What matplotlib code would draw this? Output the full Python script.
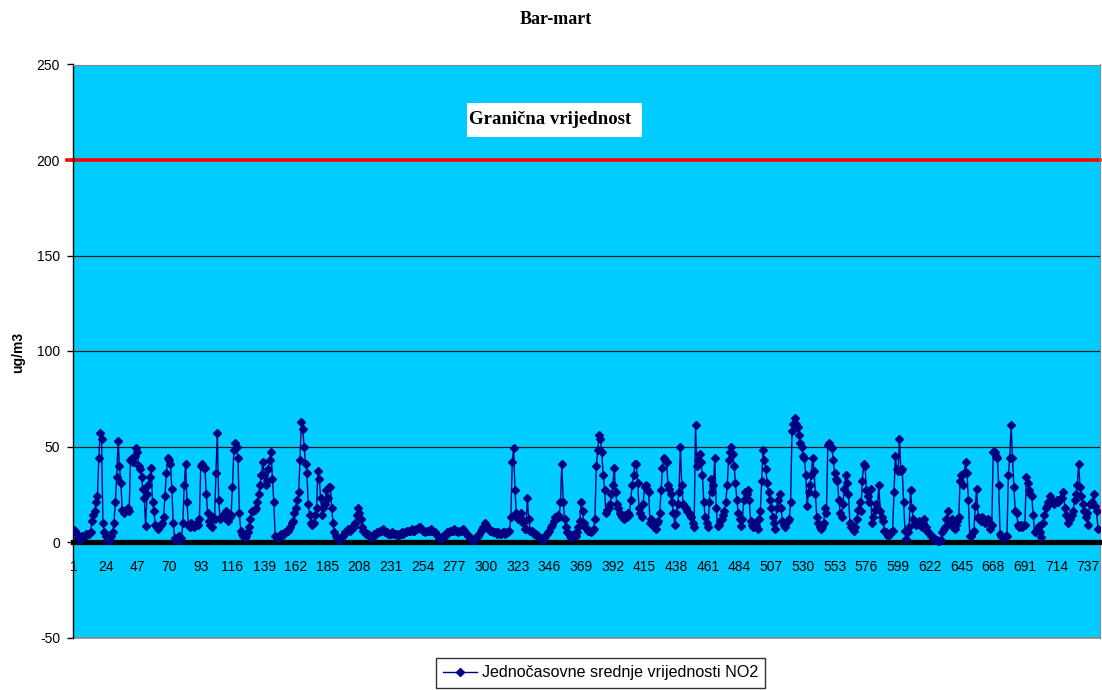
import numpy as np
import matplotlib
matplotlib.use('Agg')
import matplotlib.pyplot as plt
from matplotlib.patches import Rectangle

# hourly NO2 values for March, one row per day (24 h)
no2_days = [
    [6.5, 6, 4, 2, 1, 2, 3, 3, 3, 4, 4, 4, 5, 11, 14, 16, 21, 24, 44, 57, 54, 10, 5, 3],
    [1, 2, 1, 3, 5, 10, 21, 34, 53, 40, 31, 17, 15, 16, 17, 18, 16, 43, 44, 42, 45, 49, 47, 40],
    [38, 34, 28, 23, 8.5, 25, 30, 34, 39, 21, 16, 9, 8, 7, 8, 9, 10, 13, 24, 36, 44, 43, 41, 28],
    [10, 2, 1, 2, 3, 1, 2, 10, 30, 41, 21, 9, 8, 10, 9, 8, 9, 10, 9, 12, 40, 41, 39, 39],
    [25, 15, 11, 9, 8, 13, 12, 36, 57, 22, 12, 13, 14, 13, 16, 12, 11, 13, 14, 29, 48, 52, 50, 44],
    [15, 6, 4, 3, 2, 3, 5, 8, 12, 16, 16, 17, 18, 21, 25, 30, 35, 42, 35, 30, 32, 38, 43, 47],
    [33, 21, 3, 2, 2, 3, 4, 3, 4, 5, 5, 6, 7, 8, 10, 11, 15, 18, 22, 26, 43, 63, 59, 50],
    [41, 36, 20, 14, 10, 9, 10, 14, 18, 37, 33, 23, 14, 18, 20, 27, 23, 29, 29, 18, 10, 5, 3, 2],
    [1, 1, 2, 3, 4, 5, 6, 7, 6, 7, 8, 8, 10, 14, 18, 15, 12, 8, 6, 5, 4, 4, 3, 3],
    [2, 3, 4, 4, 5, 5, 6, 6, 7, 6, 5, 5, 4, 4, 4, 5, 4, 4, 4, 3, 4, 4, 5, 4],
    [5, 5, 6, 6, 6, 7, 6, 6, 7, 7, 8, 8, 7, 6, 6, 5, 6, 6, 6, 7, 6, 5, 5, 4],
    [3, 2, 2, 2, 3, 3, 4, 5, 5, 6, 6, 6, 7, 6, 6, 5, 6, 6, 7, 6, 5, 4, 3, 2],
    [2, 1, 1, 2, 2, 3, 4, 6, 7, 8, 10, 9, 8, 7, 6, 6, 5, 5, 5, 4, 5, 4, 4, 5],
    [5, 4, 5, 5, 6, 13, 42, 49, 27, 15, 12, 14, 15, 12, 10, 7, 7, 23, 12, 6, 6, 5, 4, 4],
    [3, 3, 2, 2, 1, 2, 3, 4, 5, 6, 8, 9, 11, 13, 13, 14, 13, 21, 41, 21, 12, 8, 5, 4],
    [3, 2, 3, 4, 3, 5, 8, 11, 21, 16, 10, 8, 7, 6, 6, 5, 6, 7, 12, 40, 48, 56, 54, 47],
    [35, 27, 15, 17, 18, 20, 25, 30, 39, 26, 20, 18, 15, 14, 13, 12, 14, 13, 15, 14, 22, 30, 35, 41],
    [41, 31, 18, 15, 13, 20, 29, 30, 28, 26, 10, 12, 9, 8, 7, 10, 11, 15, 27, 39, 44, 43, 42, 30],
    [28, 25, 21, 15, 9, 15, 20, 26, 50, 30, 20, 19, 18, 16, 15, 14, 13, 10, 8, 61, 40, 43, 46, 42],
    [35, 21, 13, 10, 8, 21, 33, 26, 30, 44, 18, 8.5, 9, 11, 12, 14, 16, 21, 30, 43, 47, 50, 46, 40],
    [31, 22, 15, 12, 8.5, 12, 22, 26, 25, 27, 22, 11, 9, 8, 10, 9, 7, 12, 16, 32, 48, 43, 38, 31],
    [26, 22, 18, 13, 10, 7, 18, 22, 25, 18, 11, 9, 8, 10, 11, 12, 21, 58, 62, 65, 62, 60, 56, 52],
    [50, 45, 44, 35, 19, 26, 30, 35, 44, 37, 25, 13, 10, 8, 7, 8, 10, 18, 15, 51, 52, 50, 49, 43],
    [36, 33, 32, 22, 15, 13, 20, 28, 35, 31, 25, 10, 8, 7, 6, 8, 12, 17, 21, 16, 32, 41, 40, 27],
    [24, 21, 28, 10, 13, 17, 20, 18, 30, 16, 13, 11, 6, 5, 4, 3, 4, 5, 6, 26, 45, 38, 37, 54],
    [37, 38, 21, 6, 1.5, 5, 8, 27, 18, 12, 10, 9, 10, 11, 9, 8, 10, 12, 8, 6, 5, 4, 3, 2],
    [2, 1, 1, 0.5, 0.5, 1, 5, 7, 8, 12, 16, 11, 10, 12, 8, 7, 9, 11, 13, 32, 35, 30, 36, 42],
    [36, 22, 3, 3, 5, 6, 19, 28, 13, 12, 11, 13, 12, 10, 11, 12, 10, 7, 9, 47, 47, 45, 44, 30],
    [4, 3, 2, 2, 3, 3, 35, 44, 61, 44, 29, 16, 15, 9, 8, 9, 8, 9, 9, 34, 31, 27, 25, 24],
    [14, 5, 6, 7, 8.5, 5, 2.5, 10, 14, 18, 19, 21, 24, 22, 21, 20, 21, 22, 21, 22, 23, 23, 26, 18],
    [14, 10, 12, 12, 14, 16, 22, 25, 30, 41, 29, 24, 20, 16, 13, 15, 9, 20, 20, 21, 25, 19, 16, 7],
]
no2 = [v for day in no2_days for v in day]
hours = np.arange(1, len(no2) + 1)

limit_value = 200
x_labels = list(range(1, 745, 23))
y_ticks = [-50, 0, 50, 100, 150, 200, 250]

W, H = 1102, 690
fig = plt.figure(figsize=(W / 100, H / 100), dpi=100)
ax = fig.add_axes([73.3 / W, 1 - 637.5 / H, (1100 - 73.3) / W, 573 / H])
ax.set_facecolor('#00CCFF')

ax.set_xlim(0.5, 745.5)
ax.set_ylim(-50, 250)

# gridlines
for yv in [50, 100, 150, 250]:
    ax.axhline(yv, color='#1a1a1a', lw=0.9, zorder=1)

# limit line
ax.plot([-0.006, 1], [limit_value, limit_value], color='#FF0000', lw=2.6,
        transform=ax.get_yaxis_transform(), clip_on=False, zorder=2)

ax.plot(hours, no2, color='#000080', lw=1.0, marker='D', ms=4.2,
        mec='#000080', mfc='#000080', zorder=4,
        label='Jednočasovne srednje vrijednosti NO2')

# spines
ax.spines['bottom'].set_position(('data', 0))
ax.spines['bottom'].set_linewidth(3.8)
ax.spines['bottom'].set_color('black')
ax.spines['bottom'].set_zorder(3)
ax.spines['left'].set_color('black')
ax.spines['left'].set_linewidth(1.0)
ax.spines['top'].set_color('#888888')
ax.spines['right'].set_color('#888888')
ax.plot([0, 1], [0, 0], transform=ax.transAxes, color='#888888', lw=1.2, clip_on=False)

ax.set_xticks(x_labels)
ax.set_xticklabels([str(v) for v in x_labels], fontsize=10, family='Liberation Sans')
ax.tick_params(axis='x', length=0, pad=13)
ax.set_yticks(y_ticks)
ax.set_yticklabels([str(v) for v in y_ticks], fontsize=10, family='Liberation Sans')
ax.tick_params(axis='y', length=4, width=1, pad=5.5, color='black')

fig.text(556 / W, 1 - 20 / H, 'Bar-mart', ha='center', va='center',
         fontsize=13, fontweight='bold', family='Liberation Serif')
fig.text(18 / W, 1 - 352 / H, 'ug/m3', ha='center', va='center', rotation=90,
         fontsize=10, fontweight='bold', family='Liberation Sans')

fig.patches.append(Rectangle((467 / W, 1 - 137 / H), 175 / W, 34 / H,
                             transform=fig.transFigure, facecolor='white',
                             edgecolor='none', zorder=5))
fig.text(469 / W, 1 - 120 / H, 'Granična vrijednost', ha='left', va='center',
         fontsize=13.5, fontweight='bold', family='Liberation Serif', zorder=6)

leg = fig.legend(loc='upper center', bbox_to_anchor=(600.5 / W, 1 - 658 / H),
                 frameon=True, fancybox=False, edgecolor='black',
                 prop={'family': 'Liberation Sans', 'size': 11.6},
                 handlelength=2.1, handletextpad=0.3, borderpad=0.45,
                 borderaxespad=0)
leg.get_frame().set_linewidth(1.0)

fig.savefig('out.png', dpi=100)
